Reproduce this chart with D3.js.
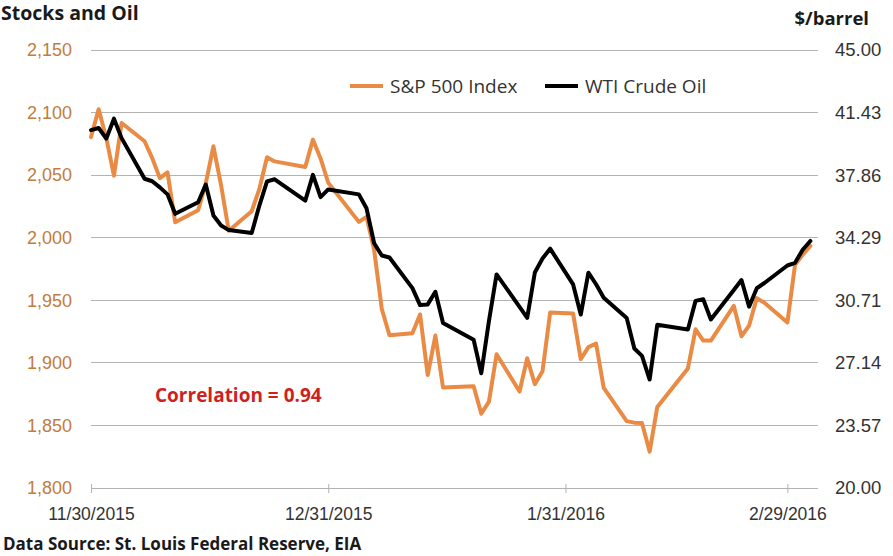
<!DOCTYPE html>
<html>
<head>
<meta charset="utf-8">
<script src="https://cdnjs.cloudflare.com/ajax/libs/d3/7.8.5/d3.min.js"></script>
<style>
  html, body { margin: 0; padding: 0; background: #fff; }
  svg { display: block; font-family: "Open Sans", "Liberation Sans", sans-serif; }
</style>
</head>
<body>
<svg id="chart" width="893" height="556"></svg>
<script>
// ---- data ----
const dates = [
  "2015-11-30","2015-12-01","2015-12-02","2015-12-03","2015-12-04","2015-12-07","2015-12-08","2015-12-09","2015-12-10","2015-12-11",
  "2015-12-14","2015-12-15","2015-12-16","2015-12-17","2015-12-18","2015-12-21","2015-12-22","2015-12-23","2015-12-24","2015-12-28",
  "2015-12-29","2015-12-30","2015-12-31",
  "2016-01-04","2016-01-05","2016-01-06","2016-01-07","2016-01-08","2016-01-11","2016-01-12","2016-01-13","2016-01-14","2016-01-15",
  "2016-01-19","2016-01-20","2016-01-21","2016-01-22","2016-01-25","2016-01-26","2016-01-27","2016-01-28","2016-01-29",
  "2016-02-01","2016-02-02","2016-02-03","2016-02-04","2016-02-05","2016-02-08","2016-02-09","2016-02-10","2016-02-11","2016-02-12",
  "2016-02-16","2016-02-17","2016-02-18","2016-02-19","2016-02-22","2016-02-23","2016-02-24","2016-02-25","2016-02-26","2016-02-29",
  "2016-03-01","2016-03-02","2016-03-03"
];
const sp500 = [
  2080.41,2102.63,2079.51,2049.62,2091.69,2077.07,2063.59,2047.62,2052.23,2012.37,
  2021.94,2043.41,2073.07,2041.89,2005.55,2021.15,2038.97,2064.29,2060.99,2056.50,
  2078.36,2063.36,2043.94,
  2012.66,2016.71,1990.26,1943.09,1922.03,1923.67,1938.68,1890.28,1921.84,1880.33,
  1881.33,1859.33,1868.99,1906.90,1877.08,1903.63,1882.95,1893.36,1940.24,
  1939.38,1903.03,1912.53,1915.45,1880.05,1853.44,1852.21,1851.86,1829.08,1864.78,
  1895.58,1926.82,1917.83,1917.78,1945.50,1921.27,1929.80,1951.70,1948.05,1932.23,
  1978.35,1986.45,1993.40
];
const wti = [
  40.43,40.55,39.94,41.08,39.97,37.65,37.51,37.16,36.76,35.65,
  36.31,37.32,35.55,34.98,34.72,34.55,36.12,37.50,37.62,36.40,
  37.87,36.60,37.04,
  36.76,35.97,33.97,33.27,33.16,31.41,30.44,30.48,31.20,29.42,
  28.46,26.55,29.53,32.19,30.34,29.71,32.30,33.10,33.66,
  31.62,29.90,32.29,31.63,30.86,29.71,27.96,27.54,26.19,29.32,
  29.05,30.68,30.77,29.62,31.30,31.87,30.35,31.40,31.70,32.70,
  32.85,33.60,34.10
];
const leftTicks = [1800, 1850, 1900, 1950, 2000, 2050, 2100, 2150];
const rightTicks = [20.00, 23.5714, 27.1429, 30.7143, 34.2857, 37.8571, 41.4286, 45.00];
const xTickDates = ["2015-11-30", "2015-12-31", "2016-01-31", "2016-02-29"];
const xDomain = ["2015-11-30", "2016-03-04"];
const seriesNames = ["S&P 500 Index", "WTI Crude Oil"];
const titleText = "Stocks and Oil";
const rightUnit = "$/barrel";
const noteText = "Correlation = 0.94";
const sourceText = "Data Source: St. Louis Federal Reserve, EIA";

// ---- setup ----
const parse = d3.utcParse("%Y-%m-%d");
const fmtDate = d3.utcFormat("%-m/%-d/%Y");
const ORANGE = "#E98A45";
const BLACK = "#000000";
const GRID = "#b3b3b3";
const TEXT = "#333333";
const LEFTLBL = "#C27C40";

const svg = d3.select("#chart");
const plotL = 91, plotR = 818, plotT = 50, plotB = 488;

const x = d3.scaleUtc().domain(xDomain.map(parse)).range([plotL, plotR]);
const yL = d3.scaleLinear().domain([1800, 2150]).range([plotB, plotT]);
const yR = d3.scaleLinear().domain([20, 45]).range([plotB, plotT]);

const data = dates.map((d, i) => ({ date: parse(d), sp: sp500[i], oil: wti[i] }));

// gridlines
svg.append("g").selectAll("line").data(leftTicks).join("line")
  .attr("x1", plotL).attr("x2", plotR)
  .attr("y1", d => yL(d)).attr("y2", d => yL(d))
  .attr("stroke", GRID).attr("stroke-width", 1).attr("shape-rendering", "crispEdges");

// left axis
const gL = svg.append("g").attr("transform", `translate(${plotL},0)`)
  .call(d3.axisLeft(yL).tickValues(leftTicks).tickSize(0).tickPadding(19).tickFormat(d3.format(",")));
gL.select(".domain").remove();
gL.selectAll("text").attr("fill", LEFTLBL).style("font-size", "18px");

// right axis
const gR = svg.append("g").attr("transform", `translate(${plotR},0)`)
  .call(d3.axisRight(yR).tickValues(rightTicks).tickSize(0).tickPadding(17).tickFormat(d3.format(".2f")));
gR.select(".domain").remove();
gR.selectAll("text").attr("fill", TEXT).style("font-size", "18.5px");

// bottom axis
const gB = svg.append("g").attr("transform", `translate(0,${plotB})`)
  .call(d3.axisBottom(x).tickValues(xTickDates.map(parse)).tickSize(5).tickPadding(15).tickFormat(fmtDate));
gB.select(".domain").remove();
gB.selectAll(".tick line").attr("y1", -4).attr("stroke", GRID);
gB.selectAll("text").attr("fill", TEXT).style("font-size", "17.5px");

// lines
const lineSP = d3.line().x(d => x(d.date)).y(d => yL(d.sp));
const lineOil = d3.line().x(d => x(d.date)).y(d => yR(d.oil));
svg.append("path").datum(data).attr("d", lineSP)
  .attr("fill", "none").attr("stroke", ORANGE).attr("stroke-width", 4)
  .attr("stroke-linejoin", "round").attr("stroke-linecap", "round");
svg.append("path").datum(data).attr("d", lineOil)
  .attr("fill", "none").attr("stroke", BLACK).attr("stroke-width", 4)
  .attr("stroke-linejoin", "round").attr("stroke-linecap", "round");

// legend
const legend = [
  { name: seriesNames[0], color: ORANGE, x: 350 },
  { name: seriesNames[1], color: BLACK, x: 545 }
];
const lg = svg.append("g");
legend.forEach(l => {
  lg.append("line").attr("x1", l.x).attr("x2", l.x + 33).attr("y1", 86).attr("y2", 86)
    .attr("stroke", l.color).attr("stroke-width", 4);
  lg.append("text").attr("x", l.x + 40).attr("y", 86).attr("dy", "0.35em")
    .attr("fill", TEXT).style("font-size", "19px").text(l.name);
});

// titles
svg.append("text").attr("x", 1).attr("y", 20).attr("fill", "#1a1a1a")
  .style("font-size", "19.5px").style("font-weight", "bold").text(titleText);
svg.append("text").attr("x", 869).attr("y", 25).attr("text-anchor", "end").attr("fill", "#1a1a1a")
  .style("font-size", "18.5px").style("font-weight", "bold").text(rightUnit);

// note
svg.append("text").attr("x", 155).attr("y", 395).attr("dy", "0.35em").attr("fill", "#D01F1F")
  .style("font-size", "19px").style("font-weight", "bold").text(noteText);

// source
svg.append("text").attr("x", 3).attr("y", 550).attr("fill", "#1a1a1a")
  .style("font-size", "17px").style("font-weight", "bold").text(sourceText);
</script>
</body>
</html>
